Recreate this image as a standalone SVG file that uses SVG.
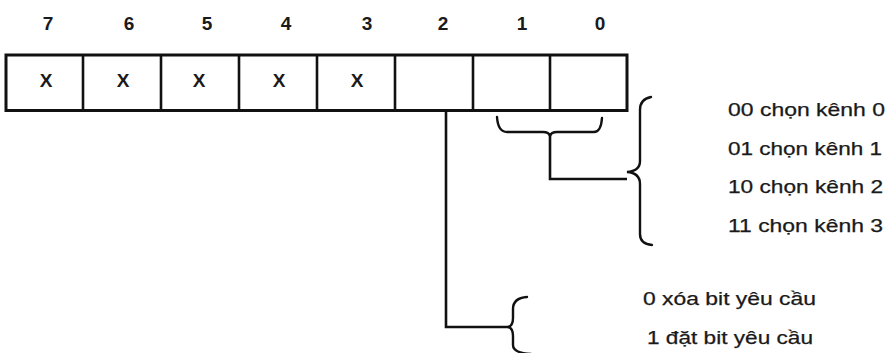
<svg xmlns="http://www.w3.org/2000/svg" width="889" height="353" viewBox="0 0 889 353">
<style>
.ln{fill:none;stroke:#111;stroke-width:2.6;stroke-linecap:butt;stroke-linejoin:miter}
.br{fill:none;stroke:#111;stroke-width:2.4;stroke-linecap:round}
.num{font-family:"Liberation Sans",Arial,sans-serif;font-size:19px;font-weight:bold;fill:#1a1a1a;text-anchor:middle}
.x{font-family:"Liberation Sans",Arial,sans-serif;font-size:19px;font-weight:bold;fill:#1a1a1a;text-anchor:middle}
.lbl{font-family:"Liberation Sans",Arial,sans-serif;font-size:17.5px;fill:#1a1a1a;stroke:#1a1a1a;stroke-width:0.25}
</style>
<rect width="889" height="353" fill="#fff"/>
<g id="register">
<rect x="6" y="55" width="621" height="55.5" fill="#fff" stroke="#111" stroke-width="3"/>
<path class="ln" d="M83,55V110.5M161,55V110.5M239,55V110.5M317,55V110.5M395,55V110.5M473,55V110.5M550,55V110.5"/>
<text class="num" x="48" y="30">7</text>
<text class="num" x="129" y="30">6</text>
<text class="num" x="207" y="30">5</text>
<text class="num" x="286" y="30">4</text>
<text class="num" x="367" y="30">3</text>
<text class="num" x="443" y="30">2</text>
<text class="num" x="522" y="30">1</text>
<text class="num" x="600" y="30">0</text>
<text class="x" x="46" y="87">X</text>
<text class="x" x="123" y="87">X</text>
<text class="x" x="199" y="87">X</text>
<text class="x" x="279" y="87">X</text>
<text class="x" x="357" y="87">X</text>
</g>
<g id="connectors">
<path class="br" d="M497,117 Q498,132 507,132 L543,132 Q549,132 550,136 Q551,132 557,132 L594,132 Q601,132 602,118"/>
<path class="ln" d="M550,134V179H627"/>
<path class="br" d="M651,97 Q640,99 640,110 L640,161 Q640,171 627,172 Q640,173 640,184 L640,234 Q640,244 652,245"/>
<path class="ln" d="M446,110.5V327H508"/>
<path class="br" d="M527,297 Q513,298 513,309 L513,318 Q513,326 508,327 Q513,328 513,336 L513,345 Q513,353 531,354"/>
</g>
<g id="channel-labels">
<text class="lbl" x="728" y="116" textLength="157" lengthAdjust="spacingAndGlyphs">00 chọn kênh 0</text>
<text class="lbl" x="728" y="154.5" textLength="154" lengthAdjust="spacingAndGlyphs">01 chọn kênh 1</text>
<text class="lbl" x="728" y="193" textLength="155" lengthAdjust="spacingAndGlyphs">10 chọn kênh 2</text>
<text class="lbl" x="728" y="231.5" textLength="155" lengthAdjust="spacingAndGlyphs">11 chọn kênh 3</text>
</g>
<g id="request-labels">
<text class="lbl" x="643" y="305" textLength="173" lengthAdjust="spacingAndGlyphs">0 xóa bit yêu cầu</text>
<text class="lbl" x="647" y="343.5" textLength="166" lengthAdjust="spacingAndGlyphs">1 đặt bit yêu cầu</text>
</g>
</svg>
